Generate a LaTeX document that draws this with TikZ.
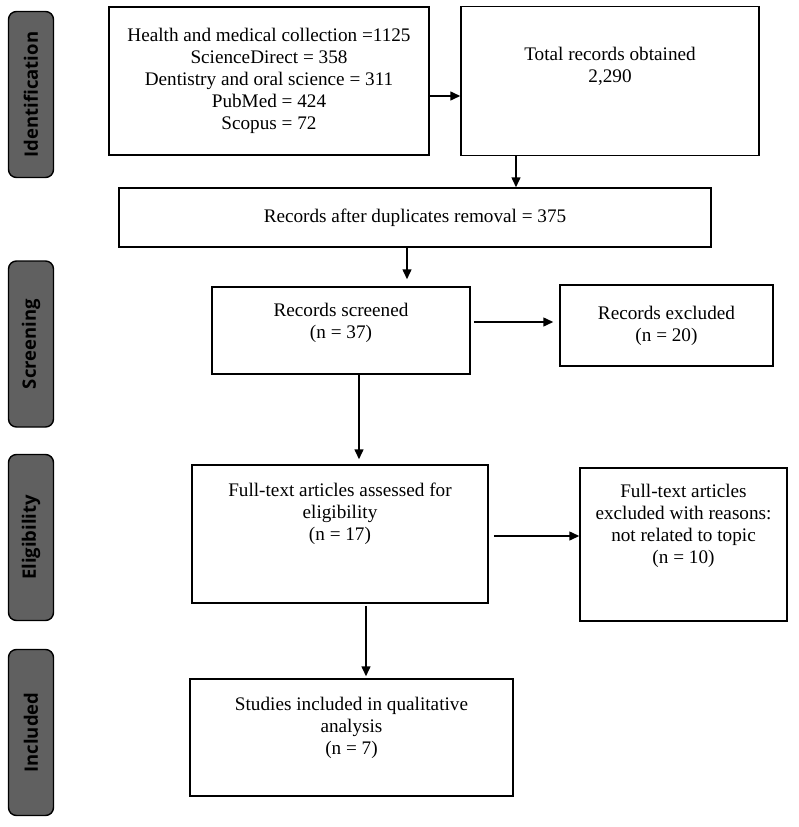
\documentclass[tikz,border=0pt]{standalone}
\usepackage{fontspec}
\setmainfont{Liberation Serif}
\newfontfamily\stagefont{Open Sans}
\usepackage{graphicx}
\usepackage{tikz}
\usetikzlibrary{shapes.geometric, arrows, arrows.meta, positioning}
\definecolor{stagegray}{RGB}{96,96,96}
\tikzstyle{process} = [rectangle, draw=black, line width=1.5pt, align=center, inner sep=0pt, font=\fontsize{19.2}{22}\selectfont]
\tikzstyle{stage} = [rectangle, rounded corners=8pt, draw=black, line width=1.4pt, fill=stagegray, minimum width=45pt, minimum height=166pt, inner sep=0pt, font=\stagefont\bfseries\fontsize{18.5}{20}\selectfont]
\tikzstyle{arrow} = [line width=1.5pt,->,>={Triangle[length=10pt,width=9pt]}]

\begin{document}
\begin{tikzpicture}[node distance=100pt]
		\useasboundingbox (-269pt,81pt) rectangle (529pt,-746pt);
		
		\node (src) [process, minimum width=320pt, minimum height=148pt] {Health and medical collection =1125\\ScienceDirect = 358\\Dentistry and oral science = 311\\PubMed = 424\\Scopus = 72};
		\node (tot) [process, right of=src, xshift=241pt, minimum width=298pt, minimum height=149pt] {Total records obtained\\2,290\\[10.7pt]~};
		
		\node (dup) [process, below of=src, xshift=146pt, yshift=-36.5pt, minimum width=592pt, minimum height=59pt] {Records after duplicates removal = 375};
		
		\node (scr) [process, below of=dup, xshift=-74pt, yshift=-13pt, minimum width=258pt, minimum height=87pt] {Records screened\\(n = 37)\\[-2pt]~};
		\node (exc) [process, right of=scr, xshift=225.5pt, yshift=5pt, minimum width=213pt, minimum height=81pt] {Records excluded\\(n = 20)};
		
		\node (ful) [process, below of=scr, xshift=-1pt, yshift=-103.5pt, minimum width=296pt, minimum height=138pt] {Full-text articles assessed for\\eligibility\\(n = 17)\\[23pt]~};
		\node (ex2) [process, right of=ful, xshift=243.5pt, yshift=-10.5pt, minimum width=207pt, minimum height=153pt] {Full-text articles\\excluded with reasons:\\not related to topic\\(n = 10)\\[19pt]~};
		
		\node (stu) [process, below of=ful, xshift=11.5pt, yshift=-103.5pt, minimum width=323pt, minimum height=117pt] {Studies included in qualitative\\analysis\\(n = 7)\\[2pt]~};
		
		% stages on the left
		\node (idn) [stage, left of=src, xshift=-138pt, yshift=-13.5pt] {\rotatebox{90}{Identification}};
		\node (scn) [stage, below of=idn, yshift=-149.5pt] {\rotatebox{90}{Screening}};
		\node (elg) [stage, below of=scn, yshift=-93.5pt] {\rotatebox{90}{Eligibility}};
		\node (inc) [stage, below of=elg, yshift=-95pt] {\rotatebox{90}{Included}};
		
		\draw [arrow] ([yshift=-15pt]src.east) -- ([yshift=-15pt]tot.west);
		\draw [arrow] ([xshift=-94pt]tot.south) -- ([xshift=101pt]dup.north);
		\draw [arrow] ([xshift=-8pt]dup.south) -- ([xshift=66pt,yshift=7pt]scr.north);
		\draw [arrow] ([xshift=3pt,yshift=8.5pt]scr.east) -- ([xshift=-6pt,yshift=3.5pt]exc.west);
		\draw [arrow] ([xshift=18pt]scr.south) -- ([xshift=19pt,yshift=5pt]ful.north);
		\draw [arrow] ([xshift=5pt,yshift=-2pt]ful.east) -- ([yshift=8.5pt]ex2.west);
		\draw [arrow] ([xshift=26pt,yshift=-2pt]ful.south) -- ([xshift=14.5pt,yshift=2pt]stu.north);
		
\end{tikzpicture}
\end{document}
